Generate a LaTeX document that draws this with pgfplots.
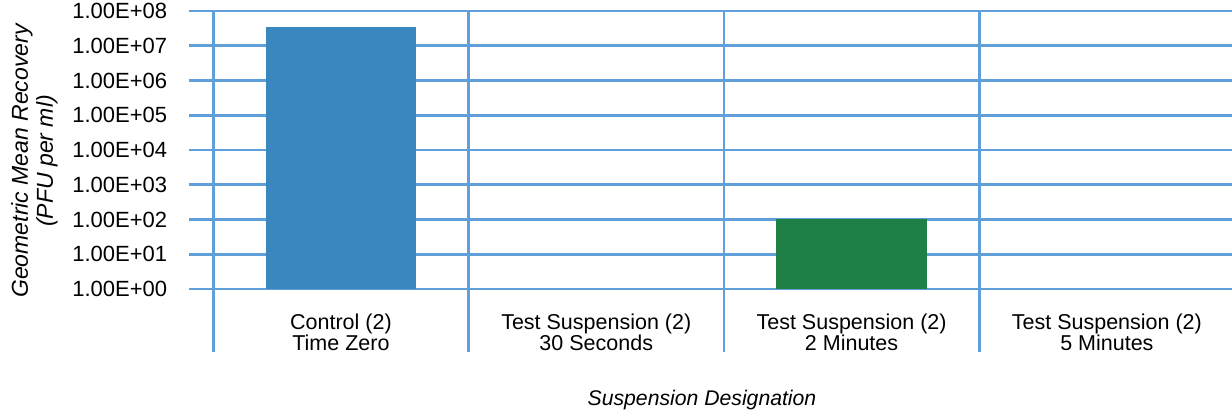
\documentclass[border=0pt]{standalone}
\usepackage{fontspec}
\setmainfont{Liberation Sans}
\usepackage{pgfplots}
\pgfplotsset{compat=1.18}
\definecolor{gridc}{RGB}{95,160,218}
\definecolor{barblue}{RGB}{58,135,191}
\definecolor{bargreen}{RGB}{31,128,69}
\begin{document}
\begin{tikzpicture}[x=1pt,y=1pt]
\path[use as bounding box] (0,0) rectangle (1232,412);
\begin{axis}[
  at={(213.3pt,123pt)}, anchor=south west,
  scale only axis, width=1018.7pt, height=278pt,
  xmin=-0.5, xmax=3.49, ymin=1, ymax=1e8, ymode=log, log basis y=10,
  axis line style={draw=none},
  ytick={1,10,100,1000,10000,100000,1000000,10000000,100000000},
  yticklabels={1.00E+00,1.00E+01,1.00E+02,1.00E+03,1.00E+04,1.00E+05,1.00E+06,1.00E+07,1.00E+08},
  yminorticks=false,
  ymajorgrids, grid style={gridc, line width=2.8pt},
  tick align=outside, major tick length=24pt,
  y tick style={gridc, line width=2.8pt},
  yticklabel style={font=\fontsize{22}{22}\selectfont, anchor=east, inner sep=0pt, xshift=-22pt},
  xtick={0,1,2,3}, x tick style={draw=none},
  xticklabels={{Control (2)\\Time Zero},{Test Suspension (2)\\30 Seconds},{Test Suspension (2)\\2 Minutes},{Test Suspension (2)\\5 Minutes}},
  xticklabel style={align=center, font=\fontsize{21.5}{21}\selectfont, anchor=north, inner sep=0pt, yshift=-1pt},
  clip=false,
  ybar, bar width=0.59, bar shift=0pt,
]
\addplot[fill=barblue, draw=none] coordinates {(0,3.4e7)};
\addplot[fill=bargreen, draw=none] coordinates {(2,100)};
\pgfplotsinvokeforeach{-0.5,0.5,1.5,2.5}{
  \draw[gridc, line width=2.8pt] (axis cs:#1,1e8) -- (axis cs:#1,0.0155);
}
\end{axis}
\node[rotate=90, align=center, font=\itshape\fontsize{23}{25}\selectfont] at (34.5,251) {Geometric Mean Recovery\\(PFU per ml)};
\node[anchor=base, font=\itshape\fontsize{21.2}{25}\selectfont] at (702,6) {Suspension Designation};
\end{tikzpicture}
\end{document}
